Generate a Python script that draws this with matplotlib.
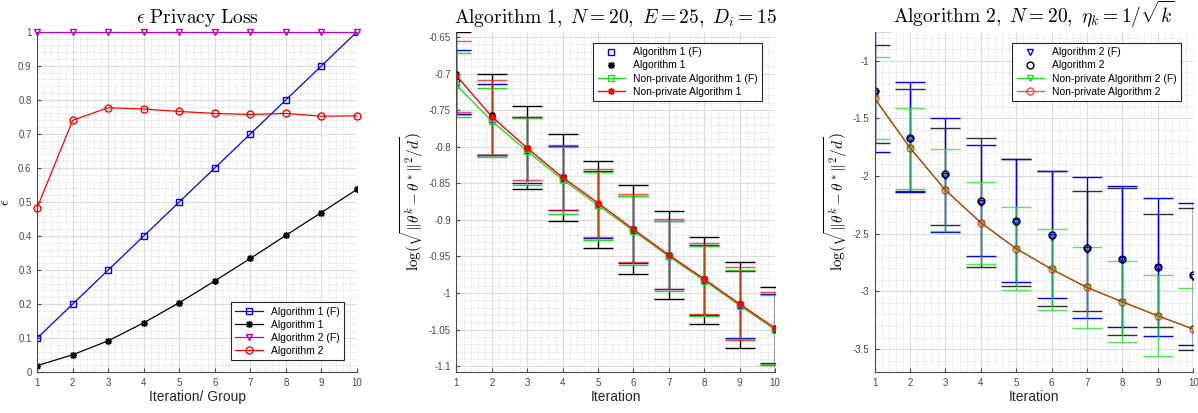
import numpy as np
import matplotlib
matplotlib.use('Agg')
import matplotlib.pyplot as plt
from matplotlib.ticker import MultipleLocator

plt.rcParams['font.family'] = ['Liberation Sans', 'DejaVu Sans']
plt.rcParams['mathtext.fontset'] = 'cm'

iters = np.arange(1, 11)

# --- panel 1: privacy loss
eps_a1f = [0.1, 0.2, 0.3, 0.4, 0.5, 0.6, 0.7, 0.8, 0.9, 1.0]
eps_a1 = [0.019, 0.051, 0.092, 0.145, 0.204, 0.268, 0.334, 0.402, 0.469, 0.537]
eps_a2f = [1.0, 1.0, 1.0, 1.0, 1.0, 1.0, 1.0, 1.0, 1.0, 1.0]
eps_a2 = [0.483, 0.740, 0.777, 0.773, 0.766, 0.760, 0.757, 0.760, 0.752, 0.753]

# --- panel 2: algorithm 1 errors (mean, upper, lower)
a1f_mean = [-0.712, -0.762, -0.804, -0.843, -0.879, -0.914, -0.949, -0.982, -1.016, -1.049]
a1_mean = [-0.700, -0.757, -0.802, -0.842, -0.878, -0.913, -0.948, -0.981, -1.015, -1.048]
np1f_mean = [-0.716, -0.765, -0.806, -0.845, -0.880, -0.915, -0.950, -0.983, -1.017, -1.050]
np1_mean = [-0.703, -0.759, -0.802, -0.842, -0.877, -0.913, -0.948, -0.981, -1.015, -1.048]
a1f_hi = [-0.668, -0.714, -0.760, -0.799, -0.833, -0.867, -0.901, -0.934, -0.970, -1.001]
a1_hi = [-0.643, -0.700, -0.745, -0.783, -0.819, -0.853, -0.888, -0.924, -0.958, -0.992]
np1f_hi = [-0.672, -0.720, -0.761, -0.800, -0.834, -0.868, -0.902, -0.936, -0.969, -1.002]
np1_hi = [-0.655, -0.709, -0.759, -0.797, -0.831, -0.865, -0.899, -0.932, -0.965, -0.999]
a1f_lo = [-0.755, -0.812, -0.849, -0.887, -0.925, -0.959, -0.995, -1.030, -1.062, -1.096]
a1_lo = [-0.755, -0.811, -0.858, -0.901, -0.939, -0.974, -1.008, -1.042, -1.075, -1.110]
np1f_lo = [-0.759, -0.814, -0.853, -0.892, -0.928, -0.962, -0.997, -1.031, -1.063, -1.097]
np1_lo = [-0.752, -0.811, -0.846, -0.886, -0.923, -0.958, -0.994, -1.029, -1.064, -1.098]

# --- panel 3: algorithm 2 errors
a2f_mean = [-1.280, -1.680, -2.000, -2.230, -2.400, -2.525, -2.640, -2.730, -2.800, -2.875]
a2_mean = [-1.266, -1.669, -1.986, -2.217, -2.390, -2.511, -2.626, -2.716, -2.788, -2.860]
np2f_mean = [-1.326, -1.755, -2.122, -2.404, -2.629, -2.808, -2.966, -3.091, -3.212, -3.327]
np2_mean = [-1.326, -1.755, -2.122, -2.404, -2.629, -2.808, -2.966, -3.091, -3.212, -3.327]
a2f_hi = [-0.740, -1.184, -1.499, -1.729, -1.851, -1.957, -2.006, -2.085, -2.188, -2.237]
a2_hi = [-0.868, -1.245, -1.586, -1.672, -1.855, -1.960, -2.127, -2.105, -2.330, -2.278]
np2f_hi = [-0.968, -1.409, -1.767, -2.049, -2.269, -2.456, -2.612, -2.736, -2.860, -2.972]
a2f_lo = [-1.790, -2.139, -2.482, -2.693, -2.923, -3.059, -3.234, -3.310, -3.385, -3.465]
a2_lo = [-1.715, -2.130, -2.425, -2.791, -2.952, -3.125, -3.171, -3.379, -3.312, -3.506]
np2f_lo = [-1.683, -2.110, -2.476, -2.765, -2.987, -3.163, -3.321, -3.442, -3.563, -3.720]

GREEN = '#22dd22'
AX_COL = '#4a4a4a'
AST = (8, 2, 0)  # matlab-like asterisk


def style(ax, ylim, ymajor, yminor):
    ax.set_xlim(1, 10)
    ax.set_ylim(*ylim)
    ax.xaxis.set_major_locator(MultipleLocator(1))
    ax.xaxis.set_minor_locator(MultipleLocator(0.2))
    ax.yaxis.set_major_locator(MultipleLocator(ymajor))
    ax.yaxis.set_minor_locator(MultipleLocator(yminor))
    ax.grid(which='major', color='#dcdcdc', lw=0.8)
    ax.grid(which='minor', color='#c8c8c8', lw=0.5, linestyle=':')
    ax.set_axisbelow(True)
    for s in ['top', 'right']:
        ax.spines[s].set_visible(False)
    for s in ['left', 'bottom']:
        ax.spines[s].set_color(AX_COL)
    ax.tick_params(which='major', direction='in', length=3, labelsize=7,
                   colors=AX_COL, pad=4)
    ax.tick_params(which='minor', length=0)
    ax.yaxis.set_major_formatter(plt.FuncFormatter(lambda v, p: ('%g' % round(v, 3))))


def ebar(ax, mean, hi, lo, color, alpha=1.0):
    mean = np.array(mean)
    yerr = [mean - np.array(lo), np.array(hi) - mean]
    ax.errorbar(iters, mean, yerr=yerr, fmt='none', ecolor=color, elinewidth=1,
                capsize=10.5, capthick=1, alpha=alpha)


def add_legend(ax, loc, anchor):
    leg = ax.legend(loc=loc, bbox_to_anchor=anchor, fontsize=7.5, fancybox=False,
                    edgecolor='#262626', framealpha=1, handlelength=2.6, borderpad=0.4,
                    labelspacing=0.3)
    leg.get_frame().set_linewidth(0.8)


fig = plt.figure(figsize=(11.98, 4.13), dpi=100)
ax1 = fig.add_axes([0.031, 0.099, 0.267, 0.824])
ax2 = fig.add_axes([0.381, 0.099, 0.266, 0.824])
ax3 = fig.add_axes([0.730, 0.099, 0.266, 0.824])

# panel 1
ax1.plot(iters, eps_a1f, color='b', lw=0.9, marker='s', ms=4, mfc='none', label='Algorithm 1 (F)')
ax1.plot(iters, eps_a1, color='k', lw=0.9, marker=AST, ms=5, label='Algorithm 1')
ax1.plot(iters, eps_a2f, color='m', lw=0.9, marker='v', ms=5, mfc='none', label='Algorithm 2 (F)', clip_on=False)
ax1.plot(iters, eps_a2, color='r', lw=0.9, marker='o', ms=5, mfc='none', label='Algorithm 2', clip_on=False)
style(ax1, (0, 1), 0.1, 0.02)
ax1.set_title(r'$\epsilon\ \mathrm{Privacy\ Loss}$', fontsize=14, pad=6)
ax1.set_xlabel('Iteration/ Group', fontsize=10, color='#262626', labelpad=2)
ax1.set_ylabel(r'$\epsilon$', fontsize=11)
ax1.yaxis.set_label_coords(-0.078, 0.5)
add_legend(ax1, 'lower right', (0.975, 0.02))

# panel 2
ebar(ax2, a1_mean, a1_hi, a1_lo, 'k')
ebar(ax2, a1f_mean, a1f_hi, a1f_lo, 'b')
ebar(ax2, np1f_mean, np1f_hi, np1f_lo, GREEN)
ebar(ax2, np1_mean, np1_hi, np1_lo, 'r', alpha=0.7)
ax2.plot(iters, a1f_mean, ls='none', color='b', marker='s', ms=4, mfc='none', label='Algorithm 1 (F)')
ax2.plot(iters, a1_mean, ls='none', color='k', marker=AST, ms=5, label='Algorithm 1')
ax2.plot(iters, np1f_mean, color=GREEN, lw=1, marker='s', ms=4, mfc='none', label='Non-private Algorithm 1 (F)')
ax2.plot(iters, np1_mean, color='r', lw=1, marker=AST, ms=5, label='Non-private Algorithm 1')
style(ax2, (-1.108, -0.643), 0.05, 0.01)
ax2.set_title(r'$\mathrm{Algorithm\ 1},\ N=20,\ E=25,\ D_i=15$', fontsize=14, pad=6)
ax2.set_xlabel('Iteration', fontsize=10, color='#262626', labelpad=2)
ax2.set_ylabel(r'$\log(\sqrt{\|\theta^k-\theta^*\|^2/d})$', fontsize=11, labelpad=2)
add_legend(ax2, 'upper right', (0.975, 0.982))

# panel 3
ebar(ax3, a2_mean, a2_hi, a2_lo, '#303030')
ebar(ax3, a2f_mean, a2f_hi, a2f_lo, 'b')
ebar(ax3, np2f_mean, np2f_hi, np2f_lo, GREEN, alpha=0.75)
ax3.plot(iters, a2f_mean, ls='none', color='b', marker='v', ms=5, mfc='none', label='Algorithm 2 (F)')
ax3.plot(iters, a2_mean, ls='none', color='k', marker='o', ms=5, mfc='none', label='Algorithm 2')
ax3.plot(iters, np2f_mean, color=GREEN, lw=1, marker='v', ms=5, mfc='none', label='Non-private Algorithm 2 (F)')
ax3.plot(iters, np2_mean, color='r', lw=1, marker='o', ms=5, mfc='none', alpha=0.7,
         label='Non-private Algorithm 2')
style(ax3, (-3.70, -0.75), 0.5, 0.1)
ax3.set_title(r'$\mathrm{Algorithm\ 2},\ N=20,\ \eta_k=1/\sqrt{k}$', fontsize=14, pad=6)
ax3.set_xlabel('Iteration', fontsize=10, color='#262626', labelpad=2)
ax3.set_ylabel(r'$\log(\sqrt{\|\theta^k-\theta^*\|^2/d})$', fontsize=11, labelpad=2)
add_legend(ax3, 'upper right', (0.978, 0.982))

fig.savefig('out.png', dpi=100)
